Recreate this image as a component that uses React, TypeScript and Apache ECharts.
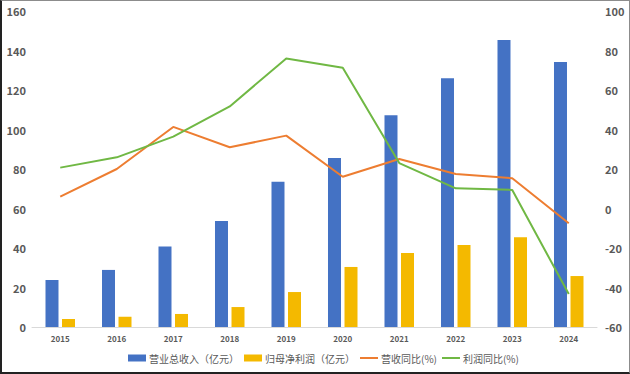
import React, { useEffect, useRef } from "react";
import * as echarts from "echarts";

const years = ["2015", "2016", "2017", "2018", "2019", "2020", "2021", "2022", "2023", "2024"];
const revenue = [23.8, 28.9, 40.8, 53.7, 73.6, 85.6, 107.2, 125.9, 145.3, 134.2];
const netProfit = [4.0, 5.2, 6.6, 10.1, 17.7, 30.4, 37.5, 41.5, 45.4, 25.8];
const revenueYoY = [6.0, 20.0, 41.3, 31.0, 36.9, 16.1, 25.1, 17.5, 15.3, -7.5];
const profitYoY = [20.7, 25.9, 36.4, 51.7, 76.0, 71.3, 23.0, 10.2, 9.4, -43.3];

const FONT = "'Noto Sans CJK SC', 'Liberation Sans', sans-serif";
const LINE_ICON = "path://M0,0h18v2h-18z";

export default function App() {
  const ref = useRef<HTMLDivElement>(null);
  useEffect(() => {
    if (!ref.current) return;
    const chart = echarts.init(ref.current, null, { renderer: "svg" });
    chart.setOption({
      animation: false,
      backgroundColor: "#ffffff",
      textStyle: { fontFamily: FONT },
      grid: { left: 32, right: 33, top: 11, bottom: 47, containLabel: false },
      legend: {
        bottom: 6,
        left: 123,
        itemGap: 5,
        itemWidth: 18,
        itemHeight: 7,
        textStyle: { fontSize: 10, color: "#595959", fontFamily: FONT, padding: [0, 0, 0, -2] },
        data: [
          { name: "营业总收入（亿元）", icon: "rect" },
          { name: "归母净利润（亿元）", icon: "rect" },
          { name: "营收同比(%)", icon: LINE_ICON },
          { name: "利润同比(%)", icon: LINE_ICON },
        ],
      },
      xAxis: {
        type: "category",
        data: years,
        axisLine: { lineStyle: { color: "#d9d9d9", width: 1 } },
        axisTick: { show: false },
        axisLabel: { fontSize: 8, fontWeight: "bold", color: "#595959", margin: 7 },
      },
      yAxis: [
        {
          type: "value",
          min: 0,
          max: 160,
          interval: 20,
          splitLine: { show: false },
          axisLine: { show: false },
          axisTick: { show: false },
          axisLabel: { fontSize: 11, fontWeight: "bold", color: "#595959", margin: 6 },
        },
        {
          type: "value",
          min: -60,
          max: 100,
          interval: 20,
          splitLine: { show: false },
          axisLine: { show: false },
          axisTick: { show: false },
          axisLabel: { fontSize: 11, fontWeight: "bold", color: "#595959", margin: 8 },
        },
      ],
      series: [
        {
          name: "营业总收入（亿元）",
          type: "bar",
          data: revenue,
          barWidth: 13,
          barGap: "27%",
          itemStyle: { color: "#4472C4" },
        },
        {
          name: "归母净利润（亿元）",
          type: "bar",
          data: netProfit,
          barWidth: 13,
          itemStyle: { color: "#F4B900" },
        },
        {
          name: "营收同比(%)",
          type: "line",
          yAxisIndex: 1,
          data: revenueYoY,
          symbol: "none",
          lineStyle: { color: "#ED7D31", width: 2 },
          itemStyle: { color: "#ED7D31" },
        },
        {
          name: "利润同比(%)",
          type: "line",
          yAxisIndex: 1,
          data: profitYoY,
          symbol: "none",
          lineStyle: { color: "#70B844", width: 2 },
          itemStyle: { color: "#70B844" },
        },
      ],
    });
    return () => chart.dispose();
  }, []);
  return (
    <div style={{ position: "fixed", left: 0, top: 0, width: 630, height: 374, background: "#fff" }}>
      <div ref={ref} style={{ position: "absolute", left: 0, top: 0, width: 630, height: 374 }} />
      <div
        style={{
          position: "absolute",
          left: 0,
          top: 0,
          width: 630,
          height: 374,
          boxSizing: "border-box",
          borderTop: "1px solid #8c8c8c",
          borderRight: "1px solid #8c8c8c",
          borderLeft: "2px solid #222",
          borderBottom: "2px solid #222",
          pointerEvents: "none",
        }}
      />
    </div>
  );
}
